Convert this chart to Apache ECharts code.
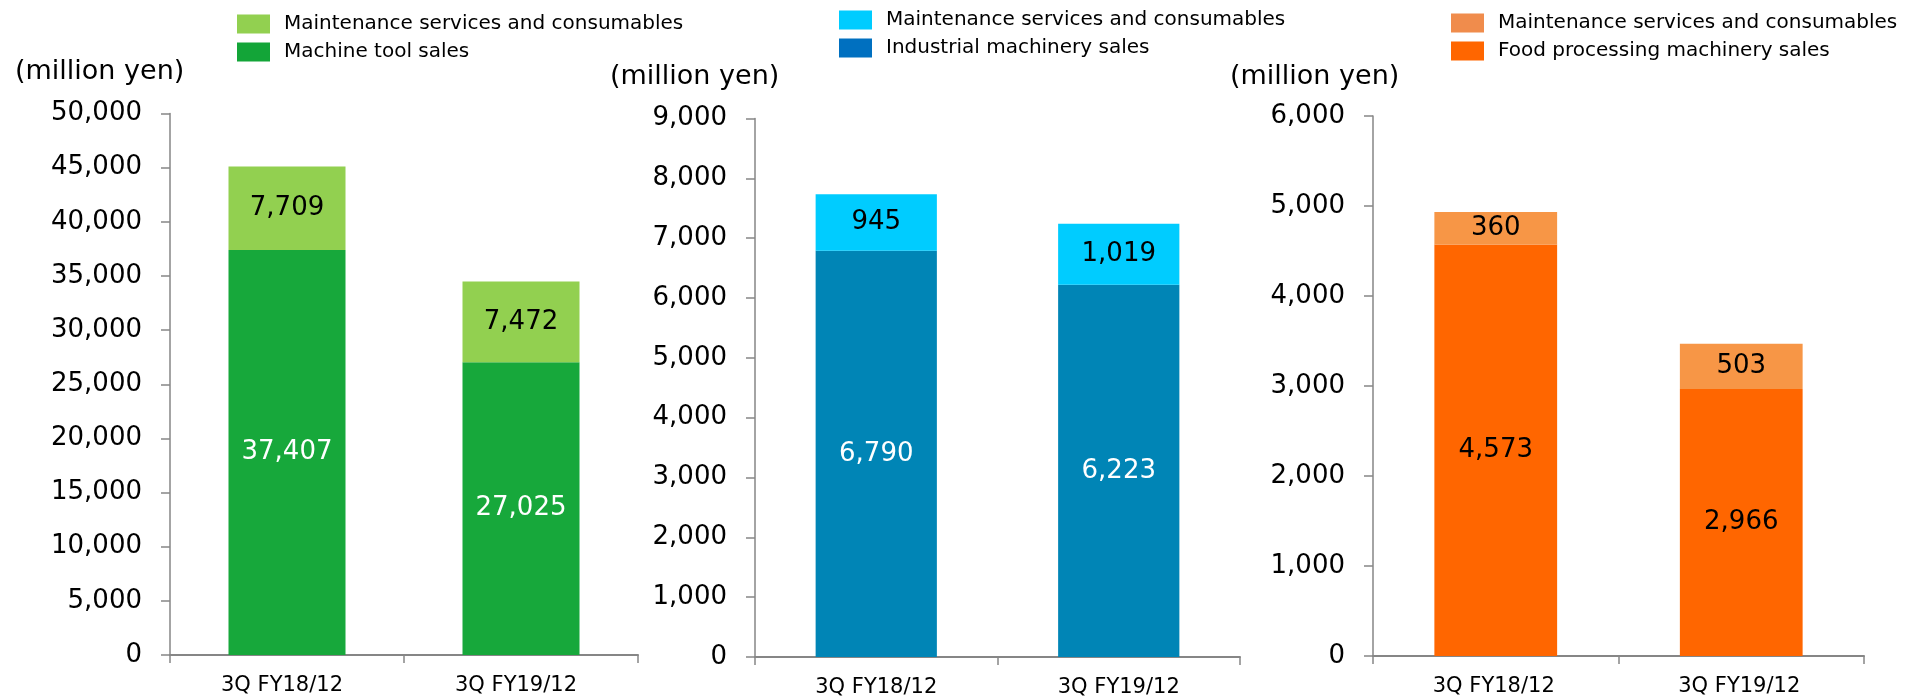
<!DOCTYPE html>
<html>
<head>
<meta charset="utf-8">
<title>Sales by segment</title>
<script src="https://cdn.jsdelivr.net/npm/echarts@6/dist/echarts.min.js"></script>
<style>
  html, body { margin: 0; padding: 0; background: #ffffff; }
  #chart { width: 1906px; height: 699px; }
</style>
</head>
<body>
<div id="chart"></div>
<script>
// Periods on the x axis
const categories = ['3Q FY18/12', '3Q FY19/12'];

// Machine tools (million yen)
const machineToolSales = [37407, 27025];
const machineToolMaintenance = [7709, 7472];

// Industrial machinery (million yen)
const industrialSales = [6790, 6223];
const industrialMaintenance = [945, 1019];

// Food processing machinery (million yen)
const foodSales = [4573, 2966];
const foodMaintenance = [360, 503];

// Value axis ranges per panel
const axisMax = [50000, 9000, 6000];
const axisStep = [5000, 1000, 1000];

const unitLabel = '(million yen)';
const maintName = 'Maintenance services and consumables';

const FONT = 'DejaVu Sans';
const fmt = v => Number(v).toLocaleString('en-US');

const panels = [
  {
    grid: { left: 170, top: 113.5, width: 468, height: 541.5 },
    title: { left: 15, top: 58 },
    legend: { left: 237, top: 14 },
    catShift: 10,
    sales: { name: 'Machine tool sales', data: machineToolSales, color: '#17A83B', legendColor: '#13A538', labelColor: '#ffffff' },
    maint: { data: machineToolMaintenance, color: '#92D050', legendColor: '#92D050', labelColor: '#000000' }
  },
  {
    grid: { left: 755, top: 118.5, width: 485, height: 538.5 },
    title: { left: 610, top: 63 },
    legend: { left: 839, top: 10 },
    catShift: 0,
    sales: { name: 'Industrial machinery sales', data: industrialSales, color: '#0085B6', legendColor: '#0070C0', labelColor: '#ffffff' },
    maint: { data: industrialMaintenance, color: '#00CCFF', legendColor: '#00CCFF', labelColor: '#000000' }
  },
  {
    grid: { left: 1373, top: 116, width: 491, height: 540 },
    title: { left: 1230, top: 63 },
    legend: { left: 1451, top: 13 },
    catShift: 4,
    sales: { name: 'Food processing machinery sales', data: foodSales, color: '#FF6600', legendColor: '#FF6600', labelColor: '#000000' },
    maint: { data: foodMaintenance, color: '#F79646', legendColor: '#F08C4C', labelColor: '#000000' }
  }
];

const option = {
  backgroundColor: '#ffffff',
  animation: false,
  textStyle: { fontFamily: FONT },
  title: [],
  legend: [],
  grid: [],
  xAxis: [],
  yAxis: [],
  series: []
};

panels.forEach((p, i) => {
  option.grid.push(Object.assign({ containLabel: false }, p.grid));

  option.title.push({
    text: unitLabel,
    left: p.title.left,
    top: p.title.top,
    padding: 0,
    textStyle: { fontFamily: FONT, fontSize: 27, fontWeight: 'normal', color: '#000000' }
  });

  option.legend.push({
    orient: 'vertical',
    left: p.legend.left,
    top: p.legend.top,
    padding: 0,
    itemWidth: 33,
    itemHeight: 19,
    itemGap: 8,
    icon: 'rect',
    selectedMode: false,
    textStyle: { fontFamily: FONT, fontSize: 20, color: '#000000', padding: [0, 0, 0, 9] },
    data: [
      { name: maintName, itemStyle: { color: p.maint.legendColor } },
      { name: p.sales.name, itemStyle: { color: p.sales.legendColor } }
    ]
  });

  option.xAxis.push({
    type: 'category',
    gridIndex: i,
    data: categories,
    boundaryGap: true,
    axisLine: { lineStyle: { color: '#868686', width: 2 } },
    axisTick: { show: true, length: 8, alignWithLabel: false, lineStyle: { color: '#868686', width: 1.5 } },
    axisLabel: {
      fontFamily: FONT, fontSize: 21, color: '#000000', margin: 20,
      padding: [0, p.catShift, 0, 0]
    }
  });

  option.yAxis.push({
    type: 'value',
    gridIndex: i,
    min: 0,
    max: axisMax[i],
    interval: axisStep[i],
    splitLine: { show: false },
    axisLine: { show: true, lineStyle: { color: '#868686', width: 1.5 } },
    axisTick: { show: true, length: 9, lineStyle: { color: '#868686', width: 1.5 } },
    axisLabel: {
      fontFamily: FONT, fontSize: 26, color: '#000000', margin: 28,
      padding: [6, 0, 0, 0],
      formatter: fmt
    }
  });

  const stackId = 'stack' + i;
  option.series.push({
    name: p.sales.name,
    type: 'bar',
    xAxisIndex: i,
    yAxisIndex: i,
    stack: stackId,
    barWidth: '50%',
    data: p.sales.data,
    itemStyle: { color: p.sales.color },
    label: {
      show: true,
      position: 'inside',
      fontFamily: FONT,
      fontSize: 26,
      color: p.sales.labelColor,
      formatter: d => fmt(d.value)
    }
  });
  option.series.push({
    name: maintName,
    type: 'bar',
    xAxisIndex: i,
    yAxisIndex: i,
    stack: stackId,
    barWidth: '50%',
    data: p.maint.data,
    itemStyle: { color: p.maint.color },
    label: {
      show: true,
      position: 'inside',
      fontFamily: FONT,
      fontSize: 26,
      color: p.maint.labelColor,
      formatter: d => fmt(d.value)
    }
  });
});

const chart = echarts.init(document.getElementById('chart'), null, { renderer: 'canvas' });
chart.setOption(option);
</script>
</body>
</html>
